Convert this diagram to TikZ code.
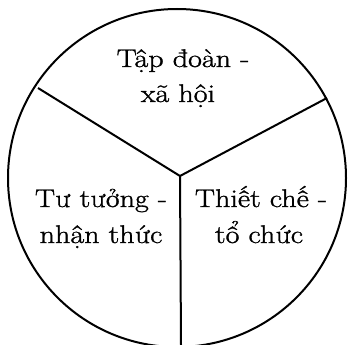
\documentclass[tikz,border=0pt]{standalone}
\usepackage{fontspec}
\setmainfont[FakeStretch=1.18,FakeBold=1.2]{Latin Modern Roman}
\begin{document}
\begin{tikzpicture}[x=1pt,y=-1pt,
  ln/.style={line width=2pt},
  lbl/.style={anchor=base,font=\fontsize{25.5}{35}\selectfont,inner sep=0pt}]
\useasboundingbox (0,0) rectangle (348,345);
\coordinate (c) at (180,176);
\coordinate (lt) at (38,88);
\coordinate (rt) at (327,98);
\coordinate (bt) at (181,345);
\begin{scope}
\clip (0,0) rectangle (348,345);
\draw[ln] (177,178) circle (169);
\end{scope}
\draw[ln] (lt) -- (c) -- (rt);
\draw[ln] (c) -- (bt);
\node[lbl] (top1) at (183,67) {Tập đoàn -};
\node[lbl] (top2) at (178,102) {xã hội};
\node[lbl] (left1) at (101,207) {Tư tưởng -};
\node[lbl] (left2) at (101,243) {nhận thức};
\node[lbl] (right1) at (261,207) {Thiết chế -};
\node[lbl] (right2) at (259,243) {tổ chức};
\end{tikzpicture}
\end{document}
